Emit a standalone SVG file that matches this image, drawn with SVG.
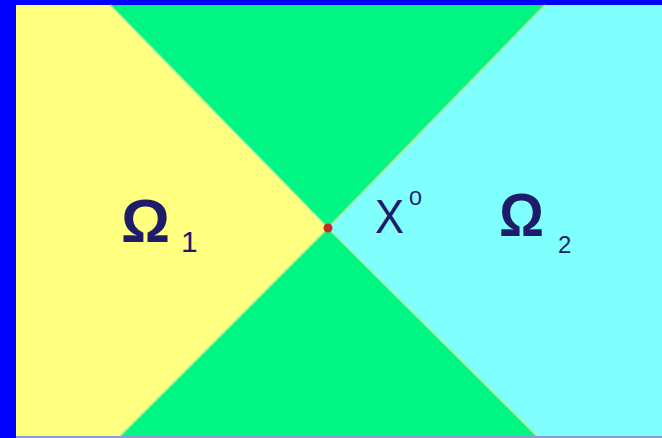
<svg xmlns="http://www.w3.org/2000/svg" width="662" height="438" viewBox="0 0 662 438">
<style>
.lbl{font-family:"Liberation Sans",Arial,sans-serif;fill:#1c1c6a}
.om{font-size:61px;font-weight:bold}
.sub{font-size:30px}
</style>
<rect x="0" y="0" width="662" height="438" fill="#0000ff"/>
<g id="yellow"><polygon points="16,5 110,5 328,228 120,436 16,436" fill="#ffff80"/></g>
<g id="cyan"><polygon points="545,5 662,5 662,436 537,436 328,228" fill="#80ffff"/></g>
<g id="greenTop"><polygon points="110,5 545,5 328,228" fill="#00f582"/></g>
<g id="greenBottom"><polygon points="120,436 537,436 328,228" fill="#00f582"/></g>
<g id="edges" stroke="#d0f8a0" stroke-width="2" fill="none" opacity="0.7">
<line x1="110" y1="5" x2="328" y2="228"/><line x1="545" y1="5" x2="328" y2="228"/>
<line x1="120" y1="436" x2="328" y2="228"/><line x1="537" y1="436" x2="328" y2="228"/>
</g>
<rect x="16" y="436" width="646" height="2" fill="#8a9ccc"/>
<g id="point"><circle cx="328" cy="228" r="4.5" fill="#c82828"/></g>
<g id="omega1"><text class="lbl om" x="121" y="242" textLength="49" lengthAdjust="spacingAndGlyphs">Ω</text><text class="lbl sub" x="181" y="252" font-weight="300">1</text></g>
<g id="x0"><text class="lbl" x="375" y="233" font-size="49" textLength="29" lengthAdjust="spacingAndGlyphs">X</text><text class="lbl" x="409" y="205" font-size="21" textLength="13" lengthAdjust="spacingAndGlyphs">0</text></g>
<g id="omega2"><text class="lbl om" x="499" y="236" textLength="45" lengthAdjust="spacingAndGlyphs">Ω</text><text class="lbl" x="558" y="253" font-size="24">2</text></g>
</svg>
